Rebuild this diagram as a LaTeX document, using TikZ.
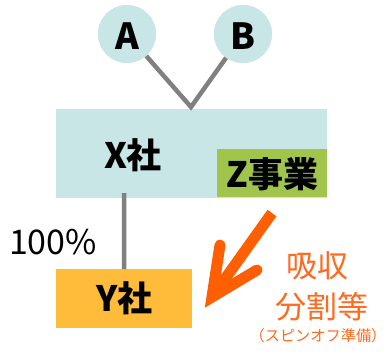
\documentclass[tikz,border=0pt]{standalone}
\usepackage{fontspec}
\newfontfamily\jp{Noto Sans CJK JP}
\usetikzlibrary{positioning,calc}
\definecolor{teal1}{HTML}{C8E6E6}
\definecolor{zgreen}{HTML}{A0C44C}
\definecolor{yorange}{HTML}{FFBB3A}
\definecolor{lgray}{HTML}{808080}
\definecolor{arrowor}{HTML}{FF5F00}
\definecolor{textor}{HTML}{FF6A1E}
\tikzset{
  circ/.style={circle, fill=teal1, minimum size=58pt, inner sep=0pt},
  boxstyle/.style={inner sep=0pt, anchor=north west},
  conn/.style={draw=lgray, line width=4.5pt},
  bigtxt/.style={font=\jp\bfseries\fontsize{35}{35}\selectfont, inner sep=0pt},
  abtxt/.style={font=\jp\bfseries\fontsize{36}{36}\selectfont, inner sep=0pt},
  ortxt/.style={text=textor, inner sep=0pt},
}
\begin{document}
\begin{tikzpicture}[x=1pt,y=-1pt]
\useasboundingbox (0,0) rectangle (385,354);
% boxes
\node[boxstyle, fill=teal1, minimum width=271pt, minimum height=89pt] (X) at (56,109) {};
\node[boxstyle, fill=zgreen, minimum width=110pt, minimum height=48pt] (Z) at (217,149) {};
\node[boxstyle, fill=yorange, minimum width=136pt, minimum height=59pt] (Y) at (56,269) {};
\coordinate (J) at (191,107);
\coordinate (Xb) at (124,193);
% circles
\node[circ] (A) at (127,34) {};
\node[circ] (B) at (243,34) {};
\draw[conn] (A) -- (J) -- (B);
\fill[teal1] (A) circle (29);
\fill[teal1] (B) circle (29);
\node[abtxt] (Atxt) at (127,36) {A};
\node[abtxt] (Btxt) at (243,36) {B};
\draw[conn] (Xb) -- (Y.north);
% texts
\node[bigtxt] (Xt) at (133,155) {X社};
\node[bigtxt] (Zt) at ($(Z.center)+(0,1)$) {Z事業};
\node[bigtxt] (Yt) at ($(Y.center)+(0,0)$) {Y社};
\node[inner sep=0pt, font=\jp\fontsize{34}{34}\selectfont] (pct) at (53,242) {100\%};
% arrow
\coordinate (as) at (272,213);
\coordinate (at) at (212,297);
\coordinate (al) at (220,245);
\coordinate (ar) at (257,270);
\draw[draw=arrowor, line width=11pt] (as) -- ($(at)!0.06!(as)$);
\draw[draw=arrowor, line width=11pt, line cap=round, line join=miter, miter limit=10] (al) -- (at) -- (ar);
% orange labels
\node[ortxt, font=\jp\fontsize{31}{31}\selectfont] (t1) at (317,266) {吸収};
\node[ortxt, font=\jp\fontsize{31}{31}\selectfont] (t2) at (322,307) {分割等};
\node[ortxt, font=\jp\fontsize{15.2}{15.2}\selectfont] (t3) at (318,336) {（スピンオフ準備）};
\end{tikzpicture}
\end{document}
